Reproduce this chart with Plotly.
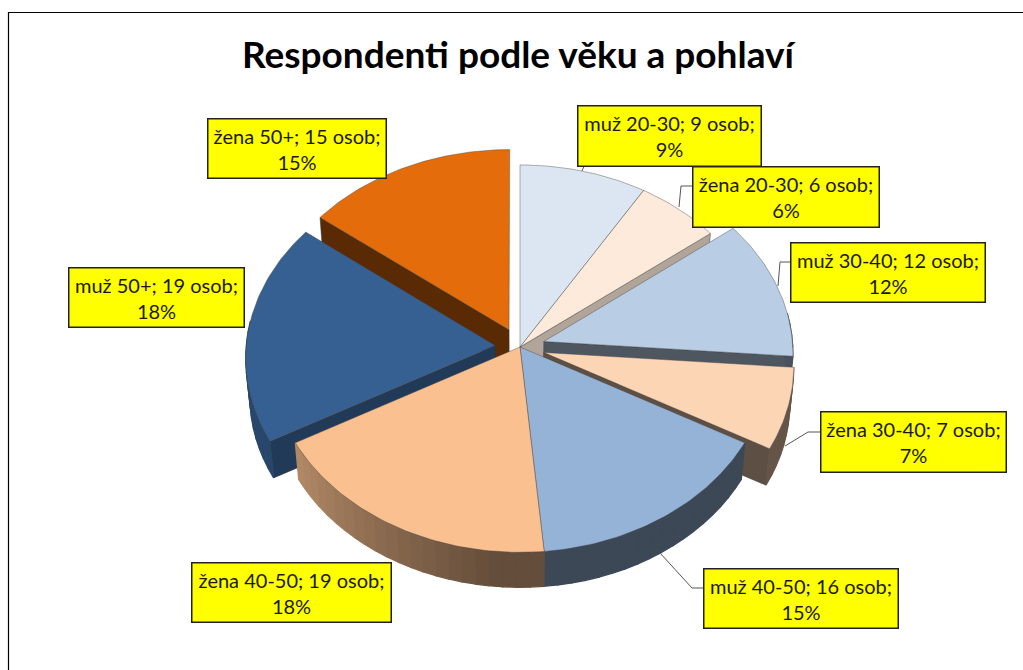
import math
import plotly.graph_objects as go

# --- data ---
labels = ["muž 20-30", "žena 20-30", "muž 30-40", "žena 30-40",
          "muž 40-50", "žena 40-50", "muž 50+", "žena 50+"]
values = [9, 6, 12, 7, 16, 19, 19, 15]
percents = [9, 6, 12, 7, 15, 18, 18, 15]
explode = [0, 0, 0.1, 0.1, 0, 0, 0.1, 0.1]
colors = ["#DCE6F2", "#FDEADA", "#B9CDE5", "#FCD5B5",
          "#95B3D7", "#FAC090", "#376092", "#E46C0A"]
wall_shades = [0.7, 0.7, 0.42, 0.37, 0.4, 0.4, 0.6, 0.39]
title = "Respondenti podle věku a pohlaví"

# --- drawing style / layout ---
CX, CY, RX, RY, K = 520, 347, 249, 193, 0.06
DEPTH, BOTTOM_SCALE = 38, 0.985
boxes = [(577, 105, 761, 166), (692, 166, 879, 227), (790, 242, 985, 302), (820, 411, 1006, 472),
         (703, 568, 898, 628), (191, 562, 391, 622), (68, 267, 244, 327), (207, 118, 386, 178)]
leaders = [[(584, 166), (582, 171)],
           [(692, 186), (681, 186), (679, 207)],
           [(790, 262), (780, 262), (778, 286)],
           [(820, 432), (808, 432), (785, 446)],
           [(703, 588), (692, 588), (660, 553)],
           None, None, None]


def project(X, Y, lower=False):
    s = 1 / (1 + K * Y)
    x, y = CX + RX * X * s, CY - RY * Y * s
    if lower:
        x = CX + (x - CX) * BOTTOM_SCALE
        y = CY + (y - CY) * BOTTOM_SCALE + DEPTH
    return x, y


def shade(hex_color, f):
    rgb = [int(hex_color[i:i + 2], 16) for i in (1, 3, 5)]
    return "rgb({},{},{})".format(*[round(c * f) for c in rgb])


def arc_shade(theta):
    if theta <= 185:
        return 0.40
    if theta >= 245:
        return 0.74
    return 0.40 + (theta - 185) / 60 * 0.34


fig = go.Figure()


def poly(points, fill, line=None, width=0.6):
    fig.add_trace(go.Scatter(
        x=[p[0] for p in points] + [points[0][0]],
        y=[p[1] for p in points] + [points[0][1]],
        mode="lines", fill="toself", fillcolor=fill,
        line=dict(color=line or fill, width=width),
        hoverinfo="skip", showlegend=False))


total = sum(values)
slices = []
cum = 0
for i, v in enumerate(values):
    start = cum / total * 360
    cum += v
    end = cum / total * 360
    slices.append((i, start, end))


def depth_key(s):
    return -math.cos(math.radians((s[1] + s[2]) / 2))


for i, start, end in sorted(slices, key=depth_key):
    mid = math.radians((start + end) / 2)
    ox, oy = explode[i] * math.sin(mid), explode[i] * math.cos(mid)

    def rim(theta, lower=False):
        t = math.radians(theta)
        return project(ox + math.sin(t), oy + math.cos(t), lower)

    apex_t, apex_b = project(ox, oy), project(ox, oy, True)
    # radial walls facing the viewer
    if math.sin(math.radians(end)) > 0:
        poly([apex_t, rim(end), rim(end, True), apex_b], shade(colors[i], wall_shades[i]), "#444444", 0.5)
    if math.sin(math.radians(start)) < 0:
        poly([apex_t, rim(start), rim(start, True), apex_b], shade(colors[i], wall_shades[i]), "#333333", 0.5)
    # outer rim, as small bands so that it can carry the shading gradient
    n = max(2, int((end - start) / 3))
    for k in range(n):
        a = start + (end - start) * k / n
        b = start + (end - start) * (k + 1) / n
        if math.cos(math.radians((a + b) / 2)) < 0.15:
            poly([rim(a), rim(b), rim(b, True), rim(a, True)],
                 shade(colors[i], arc_shade((a + b) / 2)), None, 1.3)
    # top face
    m = max(8, int(end - start))
    pts = [apex_t] + [rim(start + (end - start) * k / m) for k in range(m + 1)]
    poly(pts, colors[i], "rgba(70,70,70,0.6)", 0.7)

# leader lines
for seg in leaders:
    if seg:
        fig.add_trace(go.Scatter(x=[p[0] for p in seg], y=[p[1] for p in seg], mode="lines",
                                 line=dict(color="#555555", width=1),
                                 hoverinfo="skip", showlegend=False))

# data labels
for name, val, pct, (x0, y0, x1, y1) in zip(labels, values, percents, boxes):
    fig.add_annotation(
        x=(x0 + x1) / 2, y=(y0 + y1) / 2, xref="x", yref="y", showarrow=False,
        text=f"{name}; {val} osob;<br>{pct}%", align="center", valign="middle",
        width=x1 - x0 - 6, height=y1 - y0 - 6, borderpad=2, borderwidth=1.5,
        bordercolor="#222222", bgcolor="#FFFF00",
        font=dict(family="Lato", size=20, color="#1a1a00"))

fig.add_annotation(x=519.5, y=53, xref="x", yref="y", showarrow=False, text=f"<b>{title}</b>",
                   font=dict(family="Lato", size=37, color="#000000"))

fig.add_shape(type="rect", x0=8.5, y0=12.5, x1=1060, y1=700, line=dict(color="#000000", width=1.2))

fig.update_layout(
    width=1023, height=670, autosize=False, margin=dict(l=0, r=0, t=0, b=0),
    paper_bgcolor="#FFFFFF", plot_bgcolor="#FFFFFF", showlegend=False,
    xaxis=dict(range=[0, 1023], visible=False, fixedrange=True),
    yaxis=dict(range=[670, 0], visible=False, fixedrange=True))

fig.write_html("out.html", config={"displayModeBar": False},
               post_script="document.body.style.margin='0';document.body.style.overflow='hidden';")
